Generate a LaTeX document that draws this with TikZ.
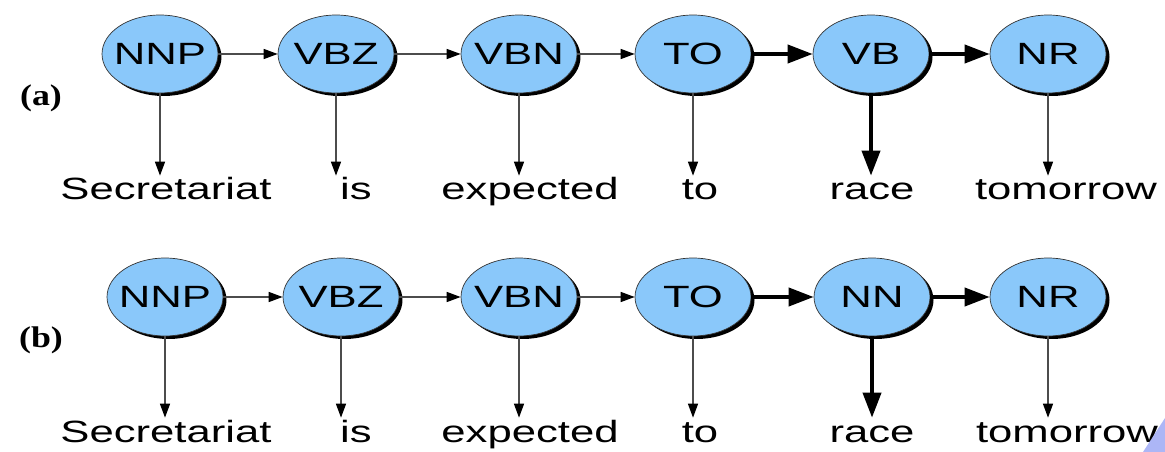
\documentclass[tikz,border=0pt]{standalone}
\usepackage{fontspec}
\newfontfamily\tagfont{Liberation Sans}[FakeStretch=1.42]
\newfontfamily\partfont{Liberation Serif}[FakeStretch=1.2]
\usetikzlibrary{shapes.geometric,shadows,arrows.meta}
\definecolor{tagblue}{RGB}{138,200,250}
\definecolor{cornerblue}{RGB}{172,182,246}

\begin{document}
\begin{tikzpicture}[
        x=0.02cm, y=-0.02cm,
        tag/.style={
            ellipse,
            draw=black!80,
            fill=tagblue,
            thin,
            minimum width=2.32cm,
            minimum height=1.56cm,
            inner xsep=-0.12cm,
            inner ysep=0pt,
            drop shadow={shadow xshift=0.07cm, shadow yshift=-0.06cm, fill=black, opacity=1},
            font=\tagfont\fontsize{17.5}{20}\selectfont
        },
        word/.style={
            anchor=base,
            inner sep=0pt,
            text height=0.48cm,
            font=\tagfont\fontsize{17.5}{20}\selectfont
        },
        thinarrow/.style={
            -{Triangle[length=0.28cm, width=0.2cm, color=black]},
            line width=0.8pt,
            draw=black!70
        },
        thickarrow/.style={
            -{Triangle[length=0.5cm, width=0.36cm]},
            line width=2.2pt,
            draw=black
        },
        part/.style={
            font=\partfont\bfseries\fontsize{17}{20}\selectfont
        }
    ]

    \useasboundingbox (0,0) rectangle (1165,452);

    % --- Part (a): TO followed by VB ---
    \node[part] (pa) at (41, 98) {(a)};

    \node[tag] (a1) at (160, 54) {NNP};
    \node[tag] (a2) at (336, 54) {VBZ};
    \node[tag] (a3) at (519, 54) {VBN};
    \node[tag] (a4) at (693, 54) {TO};
    \node[tag] (a5) at (871, 54) {VB};
    \node[tag] (a6) at (1048, 54) {NR};

    \node[word] (wa1) at (166, 200) {Secretariat};
    \node[word] (wa2) at (356, 200) {is};
    \node[word] (wa3) at (530, 200) {expected};
    \node[word] (wa4) at (700, 200) {to};
    \node[word] (wa5) at (872, 200) {race};
    \node[word] (wa6) at (1066, 200) {tomorrow};

    % Transitions
    \draw[thinarrow] (a1) -- (a2);
    \draw[thinarrow] (a2) -- (a3);
    \draw[thinarrow] (a3) -- (a4);
    \draw[thickarrow] (a4) -- (a5);
    \draw[thickarrow] (a5) -- (a6);

    % Emissions
    \draw[thinarrow] (a1) -- (a1 |- wa1.north);
    \draw[thinarrow] (a2) -- (a2 |- wa2.north);
    \draw[thinarrow] (a3) -- (a3 |- wa3.north);
    \draw[thinarrow] (a4) -- (a4 |- wa4.north);
    \draw[thickarrow] (a5) -- (a5 |- wa5.north);
    \draw[thinarrow] (a6) -- (a6 |- wa6.north);

    % --- Part (b): TO followed by NN ---
    \node[part] (pb) at (41, 340) {(b)};

    \node[tag] (b1) at (165, 297) {NNP};
    \node[tag] (b2) at (341, 297) {VBZ};
    \node[tag] (b3) at (519, 297) {VBN};
    \node[tag] (b4) at (693, 297) {TO};
    \node[tag] (b5) at (872, 297) {NN};
    \node[tag] (b6) at (1048, 297) {NR};

    \node[word] (wb1) at (166, 442) {Secretariat};
    \node[word] (wb2) at (356, 442) {is};
    \node[word] (wb3) at (530, 442) {expected};
    \node[word] (wb4) at (700, 442) {to};
    \node[word] (wb5) at (872, 442) {race};
    \node[word] (wb6) at (1067, 442) {tomorrow};

    % Transitions
    \draw[thinarrow] (b1) -- (b2);
    \draw[thinarrow] (b2) -- (b3);
    \draw[thinarrow] (b3) -- (b4);
    \draw[thickarrow] (b4) -- (b5);
    \draw[thickarrow] (b5) -- (b6);

    % Emissions
    \draw[thinarrow] (b1) -- (b1 |- wb1.north);
    \draw[thinarrow] (b2) -- (b2 |- wb2.north);
    \draw[thinarrow] (b3) -- (b3 |- wb3.north);
    \draw[thinarrow] (b4) -- (b4 |- wb4.north);
    \draw[thickarrow] (b5) -- (b5 |- wb5.north);
    \draw[thinarrow] (b6) -- (b6 |- wb6.north);

    % corner of the slide behind
    \fill[cornerblue] (1143, 452) -- (1165, 418) -- (1165, 452) -- cycle;

    \end{tikzpicture}
\end{document}
